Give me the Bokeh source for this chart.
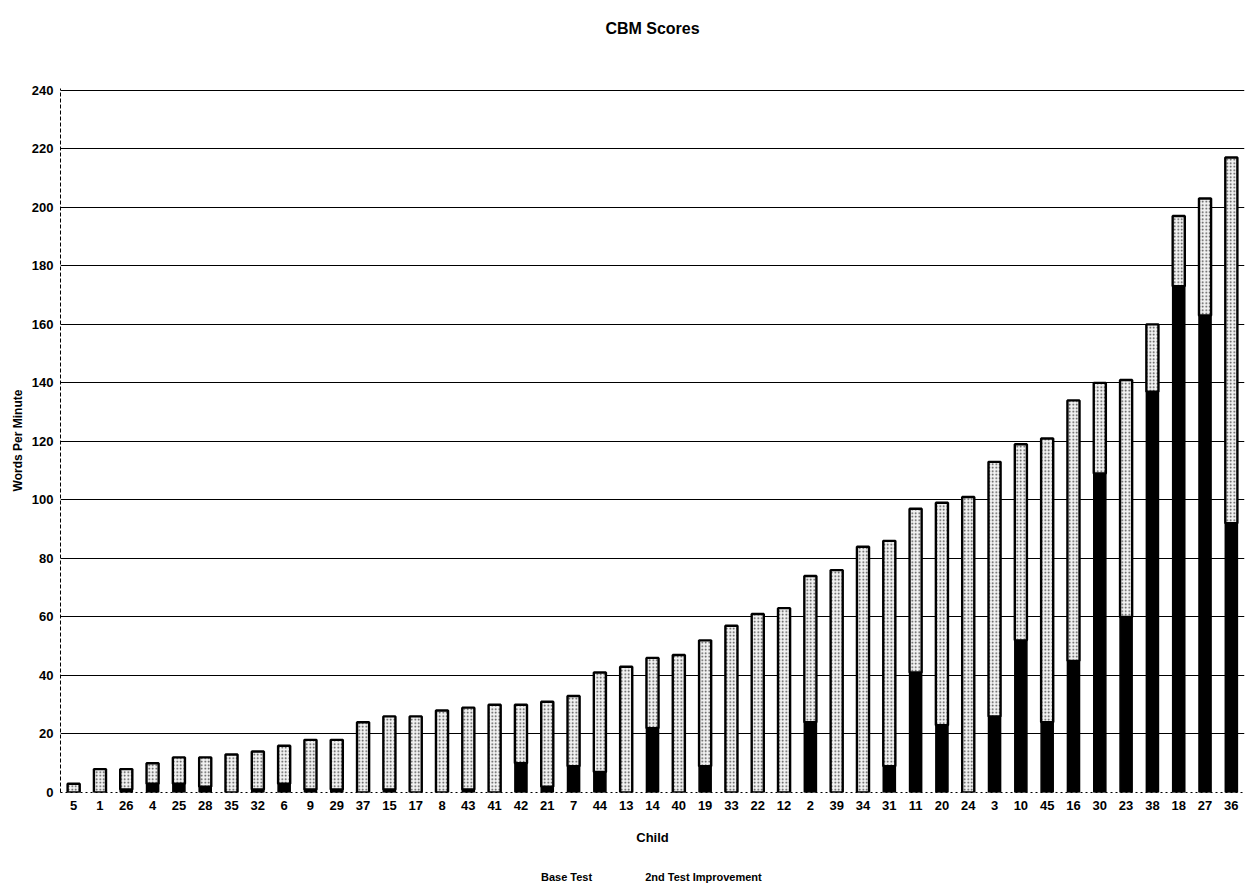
from bokeh.plotting import figure
from bokeh.layouts import column
from bokeh.models import FactorRange, Range1d, Legend, LegendItem, ColumnDataSource, FixedTicker, Title
from bokeh.embed import file_html
from bokeh.resources import INLINE

children = ["5", "1", "26", "4", "25", "28", "35", "32", "6", "9", "29", "37", "15", "17", "8",
            "43", "41", "42", "21", "7", "44", "13", "14", "40", "19", "33", "22", "12", "2", "39",
            "34", "31", "11", "20", "24", "3", "10", "45", "16", "30", "23", "38", "18", "27", "36"]
base_test = [0, 0, 1, 3, 3, 2, 0, 1, 3, 1, 1, 0, 1, 0, 0,
             1, 0, 10, 2, 9, 7, 0, 22, 0, 9, 0, 0, 0, 24, 0,
             0, 9, 41, 23, 0, 26, 52, 24, 45, 109, 60, 137, 173, 163, 92]
improvement = [3, 8, 7, 7, 9, 10, 13, 13, 13, 17, 17, 24, 25, 26, 28,
               28, 30, 20, 29, 24, 34, 43, 24, 47, 43, 57, 61, 63, 50, 76,
               84, 77, 56, 76, 101, 87, 67, 97, 89, 31, 81, 23, 24, 40, 125]
y_ticks = [0, 20, 40, 60, 80, 100, 120, 140, 160, 180, 200, 220, 240]
series_names = ["Base Test", "2nd Test Improvement"]

source = ColumnDataSource(dict(child=children, base=base_test, improvement=improvement))
legend_source = ColumnDataSource(dict(child=[], base=[], improvement=[]))

FONT = "Liberation Sans"
FILLS = ["black", "#f2f2f2"]


def style_bars(rs):
    rs[1].glyph.hatch_pattern = "dot"
    rs[1].glyph.hatch_color = "#444444"
    rs[1].glyph.hatch_scale = 3.5
    rs[1].glyph.hatch_weight = 1.0
    rs[1].glyph.line_width = 2.4


x_range = FactorRange(*children)

p = figure(x_range=x_range, y_range=Range1d(0, 240.6),
           frame_width=1184, frame_height=704, output_backend="svg", toolbar_location=None,
           title="CBM Scores",
           min_border_left=60, min_border_right=10, min_border_top=88, min_border_bottom=60)

rs = p.vbar_stack(["base", "improvement"], x="child", width=0.46, source=source,
                  fill_color=FILLS, line_color="black", line_width=1.5)
style_bars(rs)

p.title.text_font = FONT
p.title.text_font_size = "16px"
p.title.text_font_style = "bold"
p.title.text_color = "black"
p.title.align = "center"
p.title.standoff = 10
# spacer between the title and the plot area
p.add_layout(Title(text=" ", text_font_size="2px", standoff=43), "above")

p.yaxis.ticker = FixedTicker(ticks=y_ticks)
p.ygrid.ticker = FixedTicker(ticks=y_ticks[1:])
p.ygrid.grid_line_color = "black"
p.ygrid.grid_line_width = 1
p.xgrid.grid_line_color = None
p.outline_line_color = None

p.yaxis.axis_label = "Words Per Minute"
p.yaxis.axis_label_text_font = FONT
p.yaxis.axis_label_text_font_style = "bold"
p.yaxis.axis_label_text_font_size = "12px"
p.yaxis.axis_label_text_color = "black"
p.yaxis.axis_label_standoff = 4
p.yaxis.major_label_text_font = FONT
p.yaxis.major_label_text_font_style = "bold"
p.yaxis.major_label_text_font_size = "13px"
p.yaxis.major_label_text_color = "black"
p.yaxis.major_label_standoff = 7
p.yaxis.major_tick_line_color = None
p.yaxis.major_tick_out = 0
p.yaxis.minor_tick_line_color = None
p.yaxis.minor_tick_out = 0
p.yaxis.axis_line_dash = "4 2"
p.yaxis.axis_line_color = "black"

p.xaxis.axis_label = "Child"
p.xaxis.axis_label_text_font = FONT
p.xaxis.axis_label_text_font_style = "bold"
p.xaxis.axis_label_text_font_size = "13px"
p.xaxis.axis_label_text_color = "black"
p.xaxis.axis_label_standoff = 17
p.xaxis.major_label_text_font = FONT
p.xaxis.major_label_text_font_style = "bold"
p.xaxis.major_label_text_font_size = "13px"
p.xaxis.major_label_text_color = "black"
p.xaxis.major_label_standoff = 8
p.xaxis.major_tick_line_color = None
p.xaxis.major_tick_out = 0
p.xaxis.axis_line_dash = "2 3"
p.xaxis.axis_line_color = "black"

# legend strip below the chart (its renderers hold no data; only the legend shows)
pl = figure(x_range=x_range, y_range=Range1d(0, 1), width=1254, height=33,
            output_backend="svg", toolbar_location=None,
            x_axis_location=None, y_axis_location=None,
            min_border_left=0, min_border_right=0, min_border_top=0, min_border_bottom=0)
pl.xgrid.visible = False
pl.ygrid.visible = False
pl.outline_line_color = None
rl = pl.vbar_stack(["base", "improvement"], x="child", width=0.46, source=legend_source,
                   fill_color=FILLS, line_color="black", line_width=1.5)
style_bars(rl)

legend = Legend(items=[LegendItem(label=series_names[0], renderers=[rl[0]]),
                       LegendItem(label=series_names[1], renderers=[rl[1]])],
                orientation="horizontal", location=(466, 2),
                border_line_color=None, background_fill_alpha=0,
                label_text_font=FONT, label_text_font_size="11px", label_text_font_style="bold",
                label_text_color="black", label_height=12,
                glyph_width=11, glyph_height=11, spacing=38, padding=0, margin=0,
                label_standoff=4)
pl.add_layout(legend, "center")

layout = column(p, pl, spacing=0)

open("out.html", "w").write(file_html(layout, INLINE))
